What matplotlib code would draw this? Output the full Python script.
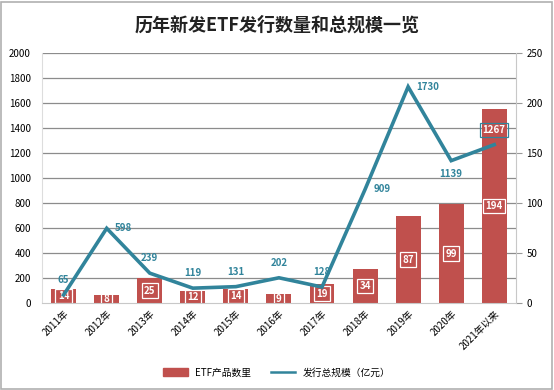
import numpy as np
import matplotlib
matplotlib.use("Agg")
import matplotlib.pyplot as plt
from matplotlib.patches import Rectangle

plt.rcParams['font.family'] = ['Noto Sans CJK SC', 'DejaVu Sans']

# === Data ===
years = ["2011年", "2012年", "2013年", "2014年", "2015年", "2016年",
         "2017年", "2018年", "2019年", "2020年", "2021年以来"]
etf_count = [14, 8, 25, 12, 14, 9, 19, 34, 87, 99, 194]
total_scale = [65, 598, 239, 119, 131, 202, 128, 909, 1730, 1139, 1267]
# where the scale label sits relative to its point
label_pos = ["up", "right", "up", "up", "up", "up", "up", "right", "right", "down", "up"]

RED = "#C0504D"
TEAL = "#31849B"

fig = plt.figure(figsize=(5.54, 3.90), dpi=100)
fig.patches.append(Rectangle((0.002, 0.003), 0.995, 0.993, transform=fig.transFigure,
                             fill=False, edgecolor="#b0b0b0", lw=1.2))
ax = fig.add_axes([0.076, 0.223, 0.855, 0.641])
ax2 = ax.twinx()

x = np.arange(len(years))

# line on left axis, bars on right axis -> draw bars on ax2 but put line above
ax.set_zorder(ax2.get_zorder() + 1)
ax.patch.set_visible(False)

bars = ax2.bar(x, etf_count, width=0.58, color=RED, zorder=2)
for xi, v in zip(x, etf_count):
    ax2.text(xi, v / 2, str(v), ha="center", va="center", color="white",
             fontsize=7, fontweight="bold",
             bbox=dict(boxstyle="square,pad=0.25", fc="none", ec="white", lw=0.9))

ax.plot(x, total_scale, color=TEAL, lw=2.6, zorder=3, solid_joinstyle="miter")
for xi, v, p in zip(x, total_scale, label_pos):
    if p == "up":
        ax.annotate(str(v), (xi, v), xytext=(0, 7), textcoords="offset points",
                    ha="center", va="bottom", color=TEAL, fontsize=7, fontweight="bold")
    elif p == "right":
        ax.annotate(str(v), (xi, v), xytext=(6, 0), textcoords="offset points",
                    ha="left", va="center", color=TEAL, fontsize=7, fontweight="bold")
    else:
        ax.annotate(str(v), (xi, v), xytext=(0, -6), textcoords="offset points",
                    ha="center", va="top", color=TEAL, fontsize=7, fontweight="bold")
# last label drawn as boxed white text over the bar
ax.texts[-1].set_color("white")
ax.texts[-1].set_bbox(dict(boxstyle="square,pad=0.25", fc="none", ec=TEAL, lw=0.9))

ax.set_xlim(-0.5, len(years) - 0.5)
ax.set_ylim(0, 2000)
ax.set_yticks(np.arange(0, 2001, 200))
ax2.set_ylim(0, 250)
ax2.set_yticks(np.arange(0, 251, 50))

ax.set_xticks(x)
ax.set_xticklabels(years, rotation=45, ha="right", rotation_mode="anchor", fontsize=7)
ax.tick_params(axis="x", length=0, pad=4)
ax.tick_params(axis="y", length=0, labelsize=7, pad=8)
ax2.tick_params(axis="y", length=4, labelsize=7, color="#999999", direction="out")

for a in (ax, ax2):
    for s in a.spines.values():
        s.set_visible(False)
ax2.spines["right"].set_visible(True)
ax2.spines["right"].set_color("#c8c8c8")
ax.spines["left"].set_visible(True)
ax.spines["left"].set_color("#dddddd")
ax.spines["bottom"].set_visible(True)
ax.spines["bottom"].set_color("#c8c8c8")

for yv in np.arange(200, 2001, 200):
    ax2.axhline(yv / 8, color="#8c8c8c", lw=0.9, zorder=0)

fig.text(0.5, 0.935, "历年新发ETF发行数量和总规模一览", ha="center", va="center",
         fontsize=13, fontweight="bold", color="#222222")

from matplotlib.lines import Line2D
from matplotlib.patches import Patch
handles = [Patch(color=RED, label="ETF产品数里"),
           Line2D([0], [0], color=TEAL, lw=1.8, label="发行总规模（亿元）")]
fig.legend(handles=handles, loc="center", bbox_to_anchor=(0.5, 0.045), ncol=2,
           frameon=False, fontsize=7, handlelength=2.5, handleheight=0.8, columnspacing=2)

fig.savefig("out.png", dpi=100)
